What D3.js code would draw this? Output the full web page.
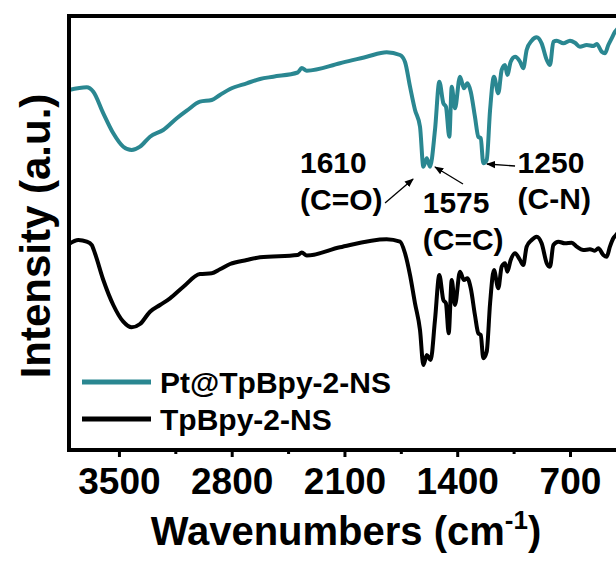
<!DOCTYPE html>
<html>
<head>
<meta charset="utf-8">
<script src="https://cdn.jsdelivr.net/npm/d3@7"></script>
<style>
  body { margin: 0; background: #fff; }
  text { font-family: "Liberation Sans", Arial, sans-serif; font-weight: bold; fill: #000; }
</style>
</head>
<body>
<svg id="chart" width="616" height="561"></svg>
<script>
/* spectra (wavenumber in cm-1, intensity in a.u.) */
const ptWn = [3810, 3700, 3659, 3597, 3535, 3473, 3421, 3369, 3307, 3225, 3141, 3079, 2997, 2924, 2873, 2810, 2707, 2624, 2542, 2390, 2365, 2334, 2128, 1962, 1838, 1755, 1724, 1693, 1662, 1631, 1610, 1589, 1569, 1538, 1511, 1486, 1470, 1449, 1434, 1414, 1383, 1358, 1337, 1316, 1290, 1269, 1254, 1238, 1217, 1196, 1172, 1145, 1124, 1103, 1089, 1068, 1041, 1010, 990, 969, 938, 907, 876, 844, 824, 803, 782, 741, 700, 669, 638, 596, 555, 534, 503, 483, 462, 441, 420, 400];
const ptVal = [360, 362.7, 358.3, 336.7, 316.7, 303.3, 300, 303.3, 313.3, 320, 331.7, 339.3, 348.3, 350, 355, 361, 366.7, 371, 373.3, 377.5, 382, 379.3, 386.7, 393.3, 397.7, 395, 388, 363.3, 340, 323.3, 283.3, 291.7, 283.3, 320, 368.3, 346.7, 343.3, 313.3, 363.3, 341.7, 373.3, 361.7, 366.7, 358.3, 333.3, 313.3, 311.7, 286.7, 290, 340, 373.3, 356.7, 380, 385, 375, 388.3, 393.3, 388.3, 381.7, 400, 409.3, 412.7, 406.7, 390, 385, 408.3, 409.3, 406.7, 409.3, 407.3, 403.3, 405, 404, 406, 398.3, 396.7, 405, 411.7, 418.3, 422];

const tpWn = [3810, 3752, 3700, 3669, 3649, 3597, 3535, 3473, 3421, 3369, 3307, 3245, 3183, 3100, 2997, 2924, 2873, 2810, 2707, 2624, 2390, 2365, 2334, 2128, 1838, 1755, 1724, 1693, 1662, 1631, 1610, 1589, 1565, 1538, 1511, 1486, 1470, 1453, 1434, 1414, 1383, 1358, 1337, 1316, 1290, 1269, 1254, 1238, 1217, 1196, 1172, 1145, 1124, 1103, 1089, 1068, 1041, 1010, 990, 969, 938, 907, 876, 844, 824, 803, 772, 731, 689, 658, 617, 576, 545, 524, 493, 472, 452, 431, 414, 400];
const tpVal = [206, 210, 208.3, 205, 196.7, 170, 145, 128.3, 122.7, 126, 138.3, 145, 151.7, 163.3, 176, 176.7, 180.7, 186, 190, 192.7, 195, 197.5, 194.5, 202.7, 210.7, 208.3, 196.7, 175, 146.7, 120, 85, 95, 90, 130, 175, 150, 146.7, 116.7, 170, 145, 178.3, 170, 171.7, 161.7, 135, 116.7, 115, 91.7, 98.3, 146.7, 180, 161.7, 183.3, 186.7, 178.3, 190, 196.7, 190, 185, 203.3, 210, 213.3, 206.7, 186.7, 183.3, 205, 208.3, 206.7, 207.3, 203.3, 200, 200.7, 199.3, 201.7, 195, 193.3, 203.3, 211.7, 215, 218];

const seriesNames = ['Pt@TpBpy-2-NS', 'TpBpy-2-NS'];
const seriesColors = ['#2a8791', '#000000'];

const majorTicks = [3500, 2800, 2100, 1400, 700];
const minorTicks = [3150, 2450, 1750, 1050];

/* peak labels: text anchor and arrow tail/tip in data units */
const peakLabels = [
  { num: '1610', bond: '(C=O)', wn: 2376, v: 277, v2: 240, from: [1848, 247], to: [1674, 271] },
  { num: '1575', bond: '(C=C)', wn: 1614, v: 237, v2: 200, from: [1364, 266], to: [1538, 283] },
  { num: '1250', bond: '(C-N)', wn: 1025, v: 277, v2: 241, from: [1041, 284], to: [1215, 286] },
];

const svg = d3.select('#chart');
const plotLeft = 69, plotTop = 16, plotBottom = 450;

const x = d3.scaleLinear().domain([3810, 400]).range([plotLeft, 618.3]);
const y = d3.scaleLinear().domain([0, 434]).range([plotBottom, plotTop]);

svg.append('defs').append('marker')
  .attr('id', 'head')
  .attr('viewBox', '0 0 10 10')
  .attr('refX', 9).attr('refY', 5)
  .attr('markerWidth', 7).attr('markerHeight', 7)
  .attr('orient', 'auto')
  .append('path').attr('d', 'M0,1 L10,5 L0,9 z').attr('fill', '#000');

const line = d3.line()
  .x((d) => x(d[0]))
  .y((d) => y(d[1]))
  .curve(d3.curveMonotoneX);

const series = [
  d3.zip(ptWn, ptVal),
  d3.zip(tpWn, tpVal),
];

svg.append('g').selectAll('path')
  .data(series)
  .enter().append('path')
  .attr('d', line)
  .attr('fill', 'none')
  .attr('stroke', (d, i) => seriesColors[i])
  .attr('stroke-width', 4)
  .attr('stroke-linejoin', 'round');

/* x axis ticks */
const xAxis = d3.axisBottom(x)
  .tickValues(majorTicks)
  .tickSize(7)
  .tickPadding(11)
  .tickFormat(d3.format('d'));

const gx = svg.append('g')
  .attr('transform', `translate(0,${plotBottom})`)
  .call(xAxis);
gx.select('.domain').remove();
gx.selectAll('.tick line').attr('stroke-width', 3);
gx.selectAll('.tick text')
  .attr('font-size', 37)
  .attr('font-family', '"Liberation Sans", Arial, sans-serif')
  .attr('font-weight', 'bold');

const gm = svg.append('g')
  .attr('transform', `translate(0,${plotBottom})`)
  .call(d3.axisBottom(x).tickValues(minorTicks).tickSize(4).tickFormat(''));
gm.select('.domain').remove();
gm.selectAll('.tick line').attr('stroke-width', 3);

/* frame, right edge sits off the canvas */
svg.append('rect')
  .attr('x', plotLeft).attr('y', plotTop)
  .attr('width', 640 - plotLeft).attr('height', plotBottom - plotTop)
  .attr('fill', 'none')
  .attr('stroke', '#000')
  .attr('stroke-width', 4);

/* peak annotations */
const ann = svg.append('g');
peakLabels.forEach((p) => {
  ann.append('text').attr('x', x(p.wn)).attr('y', y(p.v))
    .attr('font-size', 30).text(p.num);
  ann.append('text').attr('x', x(p.wn)).attr('y', y(p.v2))
    .attr('font-size', 30).text(p.bond);
  ann.append('line')
    .attr('x1', x(p.from[0])).attr('y1', y(p.from[1]))
    .attr('x2', x(p.to[0])).attr('y2', y(p.to[1]))
    .attr('stroke', '#000').attr('stroke-width', 1.3)
    .attr('marker-end', 'url(#head)');
});

/* legend */
const legend = svg.append('g');
seriesNames.forEach((name, i) => {
  const ly = 382 + i * 37;
  legend.append('line')
    .attr('x1', 82).attr('x2', 151).attr('y1', ly).attr('y2', ly)
    .attr('stroke', seriesColors[i]).attr('stroke-width', 5);
  legend.append('text')
    .attr('x', 160).attr('y', ly + 11)
    .attr('font-size', 30).text(name);
});

/* axis titles */
const xt = svg.append('text')
  .attr('x', 346).attr('y', 545)
  .attr('text-anchor', 'middle')
  .attr('font-size', 40);
xt.append('tspan').text('Wavenumbers (cm');
xt.append('tspan').attr('font-size', 26).attr('dy', -16).text('-1');
xt.append('tspan').attr('dy', 16).text(')');

svg.append('text')
  .attr('transform', 'translate(50,236) rotate(-90)')
  .attr('text-anchor', 'middle')
  .attr('font-size', 42)
  .text('Intensity (a.u.)');
</script>
</body>
</html>
